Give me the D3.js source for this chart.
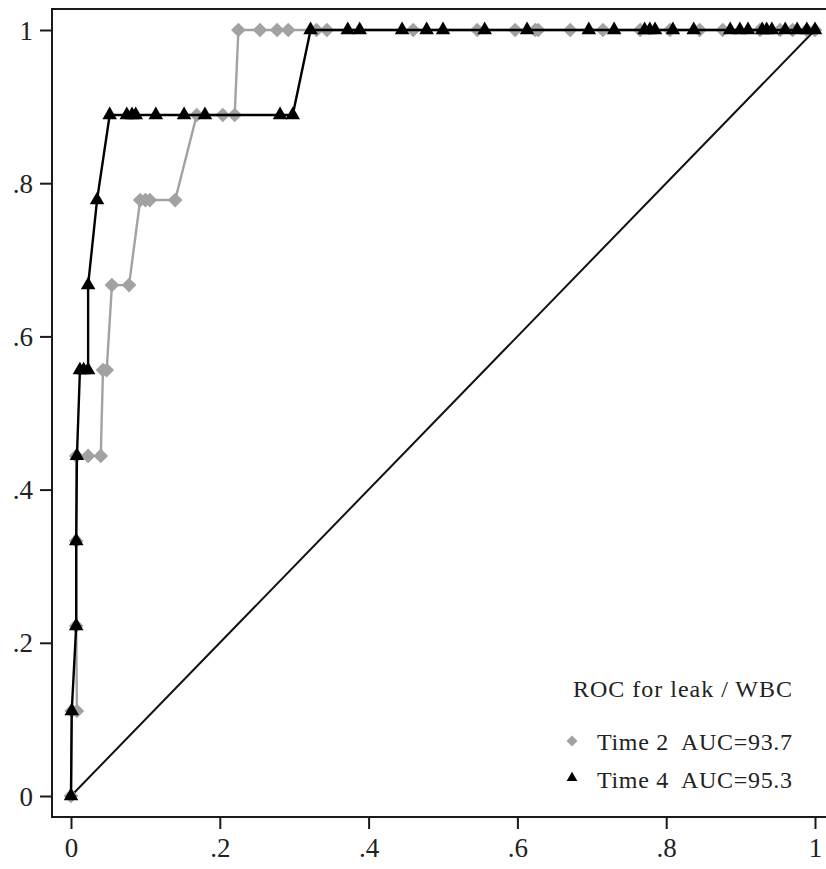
<!DOCTYPE html>
<html>
<head>
<meta charset="utf-8">
<script src="https://cdn.jsdelivr.net/npm/d3@7"></script>
<style>
  html, body { margin: 0; padding: 0; background: #fff; }
  svg { display: block; }
</style>
</head>
<body>
<div id="chart"></div>
<script>
// ROC points, time 2 (grey diamonds)
var fpr2 = [0, 0.001, 0.008, 0.007, 0.007, 0.007, 0.023, 0.040, 0.043, 0.048, 0.055, 0.078,
    0.093, 0.100, 0.106, 0.140, 0.169, 0.204, 0.220,
    0.225, 0.254, 0.277, 0.292, 0.330, 0.344, 0.460, 0.546, 0.597, 0.624, 0.628, 0.671,
    0.715, 0.765, 0.805, 0.845, 0.876, 0.926, 0.953, 0.970, 0.989, 1];
var tpr2 = [0, 0.111, 0.111, 0.222, 0.333, 0.444, 0.444, 0.444, 0.556, 0.556, 0.667, 0.667,
    0.778, 0.778, 0.778, 0.778, 0.889, 0.889, 0.889,
    1, 1, 1, 1, 1, 1, 1, 1, 1, 1, 1, 1,
    1, 1, 1, 1, 1, 1, 1, 1, 1, 1];

// ROC points, time 4 (black triangles)
var fpr4 = [0, 0.001, 0.007, 0.007, 0.008, 0.012, 0.017, 0.023, 0.023, 0.035,
    0.052, 0.075, 0.082, 0.087, 0.114, 0.152, 0.180, 0.281, 0.298,
    0.322, 0.372, 0.388, 0.445, 0.478, 0.500, 0.556, 0.613, 0.696, 0.730, 0.771, 0.778,
    0.785, 0.809, 0.837, 0.886, 0.899, 0.910, 0.929, 0.935, 0.942, 0.960, 0.976, 0.989, 1];
var tpr4 = [0, 0.111, 0.222, 0.333, 0.444, 0.556, 0.556, 0.556, 0.667, 0.778,
    0.889, 0.889, 0.889, 0.889, 0.889, 0.889, 0.889, 0.889, 0.889,
    1, 1, 1, 1, 1, 1, 1, 1, 1, 1, 1, 1,
    1, 1, 1, 1, 1, 1, 1, 1, 1, 1, 1, 1, 1];

var ticks = [0, 0.2, 0.4, 0.6, 0.8, 1];
var legendTitle = "ROC for leak / WBC";
var legendLabels = ["Time 2  AUC=93.7", "Time 4  AUC=95.3"];

var w = 826, h = 869;
var font = "'Liberation Serif', 'Times New Roman', serif";
var grey = "#a2a2a2";

var svg = d3.select("#chart").append("svg")
    .attr("width", w)
    .attr("height", h);

var x = d3.scaleLinear().domain([0, 1]).range([71, 815]);
var y = d3.scaleLinear().domain([0, 1]).range([796, 30]);

var fmt = function(d) {
    if (d == 0) return "0";
    if (d == 1) return "1";
    return d3.format(".1f")(d).replace(/^0/, "");
};

// frame (left, top, bottom; right edge is off the picture)
var frameL = 52, frameT = 9, frameB = 817;
svg.append("path")
    .attr("d", "M" + (w + 5) + "," + frameT + "H" + frameL + "V" + frameB + "H" + (w + 5))
    .attr("fill", "none")
    .attr("stroke", "#1a1a1a")
    .attr("stroke-width", 2);

// axes
var yAxis = svg.append("g")
    .attr("transform", "translate(" + frameL + ",0)")
    .call(d3.axisLeft(y).tickValues(ticks).tickFormat(fmt).tickSize(12).tickPadding(7));
var xAxis = svg.append("g")
    .attr("transform", "translate(0," + frameB + ")")
    .call(d3.axisBottom(x).tickValues(ticks).tickFormat(fmt).tickSize(12).tickPadding(9));

[xAxis, yAxis].forEach(function(g) {
    g.select(".domain").remove();
    g.selectAll(".tick line").attr("stroke", "#1a1a1a").attr("stroke-width", 2);
    g.selectAll(".tick text")
        .attr("font-family", font)
        .attr("font-size", "27px")
        .attr("fill", "#222");
});
yAxis.selectAll(".tick text").attr("dy", "0.34em");

// reference line
svg.append("line")
    .attr("x1", x(0)).attr("y1", y(0))
    .attr("x2", x(1)).attr("y2", y(1))
    .attr("stroke", "#111")
    .attr("stroke-width", 2);

var line = d3.line()
    .x(function(d) { return x(d[0]); })
    .y(function(d) { return y(d[1]); });

var pts2 = d3.zip(fpr2, tpr2);
var pts4 = d3.zip(fpr4, tpr4);

var diamond = d3.symbol().type(d3.symbolSquare).size(108);
var triangle = d3.symbol().type(d3.symbolTriangle).size(92);

function drawSeries(pts, color, sym, rot) {
    svg.append("path")
        .datum(pts)
        .attr("d", line)
        .attr("fill", "none")
        .attr("stroke", color)
        .attr("stroke-width", 2.4);

    svg.append("g").selectAll("path")
        .data(pts)
        .enter()
        .append("path")
        .attr("d", sym)
        .attr("transform", function(d) {
            return "translate(" + x(d[0]) + "," + y(d[1]) + ") rotate(" + rot + ")";
        })
        .attr("fill", color);
}

drawSeries(pts2, grey, diamond, 45);
drawSeries(pts4, "#000", triangle, 0);

// legend
var leg = svg.append("g");
leg.append("text")
    .attr("x", 573)
    .attr("y", 697)
    .attr("font-family", font)
    .attr("font-size", "24px")
    .attr("fill", "#222")
    .attr("textLength", 219)
    .attr("lengthAdjust", "spacing")
    .text(legendTitle);

var legDiamond = d3.symbol().type(d3.symbolSquare).size(60);
var legTriangle = d3.symbol().type(d3.symbolTriangle).size(50);
var legRows = [
    {label: legendLabels[0], color: grey, sym: legDiamond, rot: 45, cy: 741, base: 750},
    {label: legendLabels[1], color: "#000", sym: legTriangle, rot: 0, cy: 778, base: 788}
];

legRows.forEach(function(r) {
    leg.append("path")
        .attr("d", r.sym)
        .attr("transform", "translate(572," + r.cy + ") rotate(" + r.rot + ")")
        .attr("fill", r.color);
    leg.append("text")
        .attr("x", 597)
        .attr("y", r.base)
        .attr("font-family", font)
        .attr("font-size", "24px")
        .attr("fill", "#222")
        .attr("textLength", 195)
        .attr("lengthAdjust", "spacing")
        .attr("xml:space", "preserve")
        .style("white-space", "pre")
        .text(r.label);
});
</script>
</body>
</html>
